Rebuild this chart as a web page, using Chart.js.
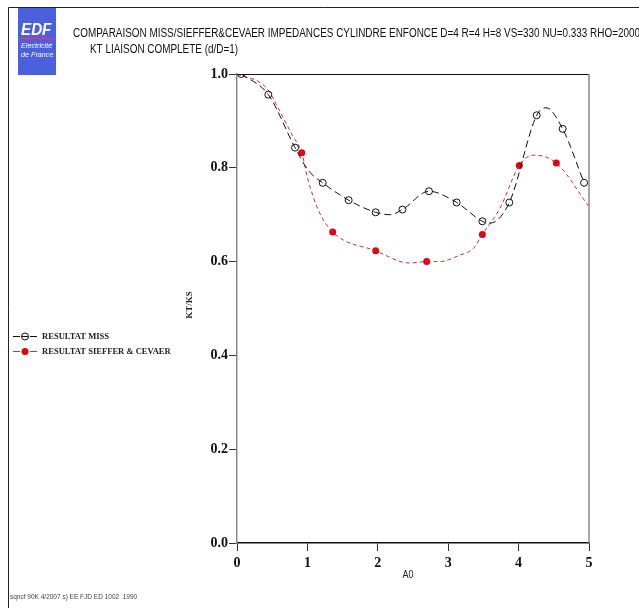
<!DOCTYPE html>
<html>
<head>
<meta charset="utf-8">
<script src="https://cdn.jsdelivr.net/npm/chart.js@4.4.0/dist/chart.umd.min.js"></script>
<style>
  body { margin: 0; background: #fff; }
  canvas { display: block; }
</style>
</head>
<body>
<canvas id="kt" width="639" height="608"></canvas>
<script>
// Données
const titreLigne1 = 'COMPARAISON MISS/SIEFFER&CEVAER IMPEDANCES CYLINDRE ENFONCE D=4 R=4 H=8 VS=330 NU=0.333 RHO=2000';
const titreLigne2 = 'KT LIAISON COMPLETE (d/D=1)';
const legendeMiss = 'RESULTAT MISS';
const legendeSieffer = 'RESULTAT SIEFFER & CEVAER';

// MISS : marqueurs
const missX = [0.06, 0.445, 0.824, 1.217, 1.586, 1.97, 2.35, 2.727, 3.12, 3.485, 3.868, 4.257, 4.626, 4.93];
const missY = [1.0, 0.956, 0.843, 0.768, 0.731, 0.705, 0.711, 0.750, 0.726, 0.686, 0.726, 0.912, 0.883, 0.768];
// MISS : courbe
const missCourbeX = [0.06, 0.445, 0.824, 1.01, 1.217, 1.586, 1.97, 2.17, 2.35, 2.727, 3.12, 3.485, 3.59, 3.868, 4.257, 4.39, 4.626, 4.93];
const missCourbeY = [1.0, 0.956, 0.843, 0.795, 0.768, 0.731, 0.705, 0.700, 0.711, 0.750, 0.726, 0.686, 0.682, 0.726, 0.912, 0.928, 0.883, 0.768];

// SIEFFER & CEVAER : marqueurs
const siefX = [0.919, 1.359, 1.97, 2.694, 3.485, 4.01, 4.536];
const siefY = [0.832, 0.663, 0.623, 0.600, 0.658, 0.805, 0.810];
// SIEFFER & CEVAER : courbe
const siefCourbeX = [0, 0.42, 0.61, 0.78, 0.919, 1.01, 1.155, 1.359, 1.97, 2.45, 2.694, 2.88, 3.168, 3.357, 3.485, 3.736, 4.01, 4.21, 4.536, 5.0];
const siefCourbeY = [1.0, 0.970, 0.920, 0.871, 0.832, 0.774, 0.710, 0.663, 0.623, 0.597, 0.600, 0.600, 0.614, 0.628, 0.658, 0.714, 0.805, 0.827, 0.810, 0.717];

const xMin = 0, xMax = 5, xPas = 1;
const yMin = 0, yMax = 1, yPas = 0.2;

const NOIR = '#111';
const ROUGE_TRAIT = '#c2353a';
const ROUGE_POINT = '#e00010';

function enPoints(xs, ys) {
    return xs.map((x, i) => ({ x: x, y: ys[i] }));
}

// texte condensé (police étroite simulée)
function texteEtroit(ctx, txt, x, y, font, echelle) {
    ctx.save();
    ctx.font = font;
    ctx.translate(x, y);
    ctx.scale(echelle, 1);
    ctx.fillText(txt, 0, 0);
    ctx.restore();
}

const decor = {
    id: 'decor',
    beforeDraw(chart) {
        const ctx = chart.ctx;
        ctx.save();
        ctx.fillStyle = '#fff';
        ctx.fillRect(0, 0, chart.width, chart.height);
        ctx.restore();
    },
    afterDraw(chart) {
        const ctx = chart.ctx;
        const a = chart.chartArea;
        ctx.save();

        // cadre de la page
        ctx.strokeStyle = '#222';
        ctx.lineWidth = 1;
        ctx.beginPath();
        ctx.moveTo(8.5, 608);
        ctx.lineTo(8.5, 7.5);
        ctx.lineTo(639, 7.5);
        ctx.stroke();

        // logo EDF
        ctx.fillStyle = '#4a60dc';
        ctx.fillRect(18, 8, 38, 67);
        ctx.strokeStyle = '#c0409a';
        ctx.beginPath();
        ctx.moveTo(20, 38.5);
        ctx.lineTo(54, 38.5);
        ctx.stroke();
        ctx.fillStyle = '#fff';
        ctx.textBaseline = 'alphabetic';
        ctx.textAlign = 'left';
        texteEtroit(ctx, 'EDF', 21, 35, 'italic bold 16px "Liberation Sans"', 0.95);
        texteEtroit(ctx, 'Electricité', 21, 48, 'italic 8px "Liberation Sans"', 0.9);
        texteEtroit(ctx, 'de France', 21, 57, 'italic 8px "Liberation Sans"', 0.9);

        // titres
        ctx.fillStyle = '#111';
        ctx.font = '12px "Liberation Sans"';
        const w1 = ctx.measureText(titreLigne1).width;
        texteEtroit(ctx, titreLigne1, 73, 37, '12px "Liberation Sans"', 567 / w1);
        texteEtroit(ctx, titreLigne2, 90, 53, '12px "Liberation Sans"', 567 / w1);

        // bords du cadre du graphique
        ctx.strokeStyle = '#111';
        ctx.beginPath();
        ctx.moveTo(a.left, a.top + 0.5);
        ctx.lineTo(a.right, a.top + 0.5);
        ctx.stroke();
        ctx.strokeStyle = '#888';
        ctx.lineWidth = 1.5;
        ctx.beginPath();
        ctx.moveTo(a.right, a.top);
        ctx.lineTo(a.right, a.bottom);
        ctx.stroke();

        // titres d'axes
        ctx.fillStyle = '#222';
        ctx.save();
        ctx.translate(190, 305);
        ctx.rotate(-Math.PI / 2);
        ctx.textAlign = 'center';
        ctx.textBaseline = 'middle';
        ctx.font = 'bold 9px "Liberation Serif"';
        ctx.fillText('KT/KS', 0, 0);
        ctx.restore();
        ctx.textAlign = 'center';
        ctx.textBaseline = 'middle';
        texteEtroit(ctx, 'A0', 408, 575, '10px "Liberation Sans"', 0.9);

        // légende
        ctx.textAlign = 'left';
        const lignes = [
            { y: 336, txt: legendeMiss, trait: NOIR, point: NOIR, plein: false },
            { y: 351, txt: legendeSieffer, trait: ROUGE_TRAIT, point: ROUGE_POINT, plein: true }
        ];
        lignes.forEach(l => {
            ctx.strokeStyle = l.trait;
            ctx.lineWidth = 1;
            ctx.beginPath();
            ctx.moveTo(13, l.y + 0.5); ctx.lineTo(20, l.y + 0.5);
            ctx.moveTo(30, l.y + 0.5); ctx.lineTo(37, l.y + 0.5);
            ctx.stroke();
            ctx.beginPath();
            ctx.arc(25, l.y + 0.5, 3.5, 0, Math.PI * 2);
            if (l.plein) {
                ctx.fillStyle = l.point;
                ctx.fill();
            } else {
                ctx.strokeStyle = l.point;
                ctx.stroke();
                ctx.beginPath();
                ctx.moveTo(21.5, l.y + 0.5); ctx.lineTo(28.5, l.y + 0.5);
                ctx.stroke();
            }
            ctx.fillStyle = '#222';
            ctx.textBaseline = 'middle';
            texteEtroit(ctx, l.txt, 42, l.y + 1, 'bold 9px "Liberation Serif"', 0.95);
        });

        // pied de page
        ctx.fillStyle = '#444';
        texteEtroit(ctx, 'sqncf 90K 4/2007 s) EE FJD ED 1002  1990', 10, 597, '6.5px "Liberation Sans"', 1.0);

        ctx.restore();
    }
};

new Chart(document.getElementById('kt').getContext('2d'), {
    type: 'line',
    data: {
        datasets: [
            {
                label: 'courbe MISS',
                data: enPoints(missCourbeX, missCourbeY),
                borderColor: NOIR,
                borderWidth: 1,
                borderDash: [7, 4],
                pointRadius: 0,
                cubicInterpolationMode: 'monotone',
                fill: false
            },
            {
                label: legendeMiss,
                data: enPoints(missX, missY),
                showLine: false,
                pointRadius: 3.5,
                pointBorderWidth: 1,
                pointBorderColor: NOIR,
                pointBackgroundColor: 'rgba(0,0,0,0)'
            },
            {
                label: 'courbe SIEFFER',
                data: enPoints(siefCourbeX, siefCourbeY),
                borderColor: ROUGE_TRAIT,
                borderWidth: 1,
                borderDash: [4, 3],
                pointRadius: 0,
                cubicInterpolationMode: 'monotone',
                fill: false
            },
            {
                label: legendeSieffer,
                data: enPoints(siefX, siefY),
                showLine: false,
                pointRadius: 3.5,
                pointBorderWidth: 0,
                pointBackgroundColor: ROUGE_POINT,
                pointBorderColor: ROUGE_POINT
            }
        ]
    },
    options: {
        responsive: false,
        animation: false,
        layout: { padding: { left: 0, top: 74, right: 50, bottom: 0 } },
        plugins: {
            legend: { display: false },
            tooltip: { enabled: false }
        },
        scales: {
            x: {
                type: 'linear',
                min: xMin,
                max: xMax,
                afterFit: s => { s.height = 65; },
                border: { color: '#111', width: 1.5 },
                grid: { drawOnChartArea: false, drawTicks: true, tickLength: 8, color: '#333' },
                ticks: {
                    stepSize: xPas,
                    padding: 4,
                    color: '#111',
                    font: { family: '"Liberation Serif"', size: 14, weight: 'bold' },
                    maxRotation: 0
                }
            },
            y: {
                min: yMin,
                max: yMax,
                afterFit: s => { s.width = 237; },
                border: { color: '#888', width: 1.5 },
                grid: { drawOnChartArea: false, drawTicks: true, tickLength: 8, color: '#333' },
                ticks: {
                    stepSize: yPas,
                    padding: 1,
                    color: '#111',
                    font: { family: '"Liberation Serif"', size: 14, weight: 'bold' },
                    callback: v => v.toFixed(1)
                }
            }
        }
    },
    plugins: [decor]
});
</script>
</body>
</html>
